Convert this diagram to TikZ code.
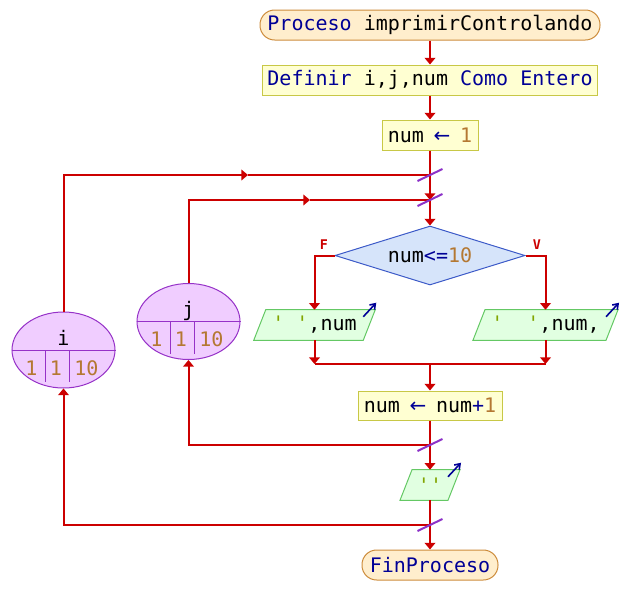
\documentclass[tikz,border=0pt]{standalone}
\usepackage{fontspec}
\setmonofont{DejaVu Sans Mono}
\newfontfamily\arrowfont{DejaVu Sans}
\usepackage{xcolor}
\usetikzlibrary{shapes.geometric,arrows.meta,calc,backgrounds}
\definecolor{pseRed}{RGB}{204,0,0}
\definecolor{pseCut}{RGB}{140,50,200}
\definecolor{pseCream}{RGB}{255,238,205}
\definecolor{pseOrange}{RGB}{205,140,60}
\definecolor{pseYellow}{RGB}{255,255,210}
\definecolor{pseOlive}{RGB}{200,200,70}
\definecolor{pseSky}{RGB}{214,228,250}
\definecolor{pseBlue}{RGB}{60,90,200}
\definecolor{pseMint}{RGB}{225,255,225}
\definecolor{pseGreen}{RGB}{100,200,100}
\definecolor{pseLilac}{RGB}{240,205,255}
\definecolor{pseViolet}{RGB}{150,50,200}
\definecolor{pseKey}{RGB}{0,0,150}
\definecolor{pseNum}{RGB}{180,120,50}
\definecolor{pseStr}{RGB}{130,165,0}
\newcommand{\pkw}[1]{\textcolor{pseKey}{#1}}
\newcommand{\pnum}[1]{\textcolor{pseNum}{#1}}
\newcommand{\pstr}[1]{\textcolor{pseStr}{#1}}
\newcommand{\passign}{\makebox[0.602em][c]{\arrowfont\pkw{←}}}

\begin{document}
\begin{tikzpicture}[x=0.75pt, y=-0.75pt,
    font=\ttfamily\fontsize{15}{18}\selectfont,
    flow/.style={draw=pseRed, line width=1.5pt, -{Triangle[width=8pt,length=5pt]}},
    link/.style={draw=pseRed, line width=1.5pt},
    cut/.style={draw=pseCut, line width=1.5pt},
    startend/.style={rectangle, rounded corners=11pt, draw=pseOrange, fill=pseCream, line width=0.75pt, minimum height=22.5pt, inner sep=2pt},
    procbox/.style={rectangle, draw=pseOlive, fill=pseYellow, line width=0.75pt, minimum height=22.5pt, inner sep=2pt},
    decision/.style={diamond, aspect=3.2, draw=pseBlue, fill=pseSky, line width=0.75pt, minimum width=142.5pt, minimum height=44.25pt, inner sep=0pt},
    iobox/.style={rectangle, minimum height=22.5pt, inner sep=2pt},
    iodraw/.style={draw=pseGreen, fill=pseMint, line width=0.75pt},
    outarrow/.style={draw=pseKey, line width=1.2pt, -{Straight Barb[angle=70:4.5pt]}},
    loopvar/.style={ellipse, draw=pseViolet, fill=pseLilac, line width=0.75pt, minimum width=77.25pt, minimum height=57pt, inner sep=0pt},
    vardiv/.style={draw=pseViolet, line width=0.75pt},
    branch/.style={text=pseRed, font=\ttfamily\bfseries\fontsize{10}{12}\selectfont}]
    \useasboundingbox (0,0) rectangle (626,615);

    % sequence
    \node[startend, minimum width=255pt] (start) at (430,25) {\pkw{Proceso} imprimirControlando};
    \node[procbox, minimum width=251.25pt] (def) at (430,80) {\pkw{Definir} i,j,num \pkw{Como Entero}};
    \node[procbox, minimum width=72pt] (init) at (430,135) {num \passign{} \pnum{1}};
    \node[decision] (cond) at (430,255.5) {num\pkw{<=}\pnum{10}};
    \node[iobox, minimum width=81.75pt] (outF) at (314.5,325) {\pstr{'~'},num};
    \node[iobox, minimum width=99.4pt] (outV) at (545.5,325) {\pstr{'~~'},num,};
    \node[procbox, minimum width=108pt, minimum height=21.75pt] (upd) at (430,405.5) {num \passign{} num\pkw{+}\pnum{1}};
    \node[iobox, minimum width=35.6pt] (outN) at (430,485) {\pstr{''}};
    \node[startend, minimum width=102pt] (end) at (430,565) {\pkw{FinProceso}};

    % branch labels
    \node[branch] (lblF) at (324,245) {F};
    \node[branch] (lblV) at (537,245) {V};

    % loop counters
    \node[loopvar] (loopI) at (63.5,350) {};
    \node[loopvar] (loopJ) at (188.5,321.5) {};
    \foreach \v/\lbl in {loopI/i, loopJ/j} {
        \draw[vardiv] (\v.west) -- (\v.east);
        \draw[vardiv] ($(\v.center)+(-18,0)$) -- ++(0,32);
        \draw[vardiv] ($(\v.center)+(5.5,0)$) -- ++(0,32);
        \node[anchor=base] (\v-name) at ($(\v.center)+(0,-5)$) {\lbl};
        \node[anchor=base, text=pseNum] (\v-from) at ($(\v.center)+(-32,25)$) {1};
        \node[anchor=base, text=pseNum] (\v-step) at ($(\v.center)+(-7.5,25)$) {1};
        \node[anchor=base, text=pseNum] (\v-to) at ($(\v.center)+(23,25)$) {10};
    }

    % output shapes
    \begin{scope}[on background layer]
    \foreach \p in {outF,outV,outN} {
        \draw[iodraw] ($(\p.south west)+(-6,0)$) -- ($(\p.north west)+(6,0)$)
            -- ($(\p.north east)+(6,0)$) -- ($(\p.south east)+(-6,0)$) -- cycle;
    }
    \end{scope}
    \foreach \p in {outF,outV,outN}
        \draw[outarrow] ($(\p.north east)+(-6,7)$) -- ($(\p.north east)+(7,-7)$);

    % junctions
    \coordinate (ji) at (430,175);
    \coordinate (jj) at (430,200);
    \coordinate (mj) at (430,364);
    \coordinate (kj) at (430,445);
    \coordinate (ki) at (430,525);
    \coordinate (iMark) at (248,175);
    \coordinate (jMark) at (310,200);

    % connectors
    \draw[flow] (start) -- (def);
    \draw[flow] (def) -- (init);
    \draw[flow] (init) -- (jj);
    \draw[flow] (jj) -- (cond);
    \draw[flow] (cond.west) -| (outF.north);
    \draw[flow] (cond.east) -| (outV.north);
    \draw[flow] (outF.south) -- (outF.south |- mj);
    \draw[flow] (outV.south) -- (outV.south |- mj);
    \draw[link] (outF.south |- mj) -- (outV.south |- mj);
    \draw[flow] (mj) -- (upd);
    \draw[flow] (upd) -- (outN);
    \draw[flow] (outN) -- (end);
    \draw[flow] (kj) -| (loopJ.south);
    \draw[flow] (loopJ.north) |- (jMark);
    \draw[link] (jMark) -- (jj);
    \draw[flow] (ki) -| (loopI.south);
    \draw[flow] (loopI.north) |- (iMark);
    \draw[link] (iMark) -- (ji);

    % loop cuts
    \foreach \c in {ji,jj,kj,ki}
        \draw[cut] ($(\c)+(-12.5,6)$) -- ($(\c)+(12.5,-6)$);
\end{tikzpicture}
\end{document}
